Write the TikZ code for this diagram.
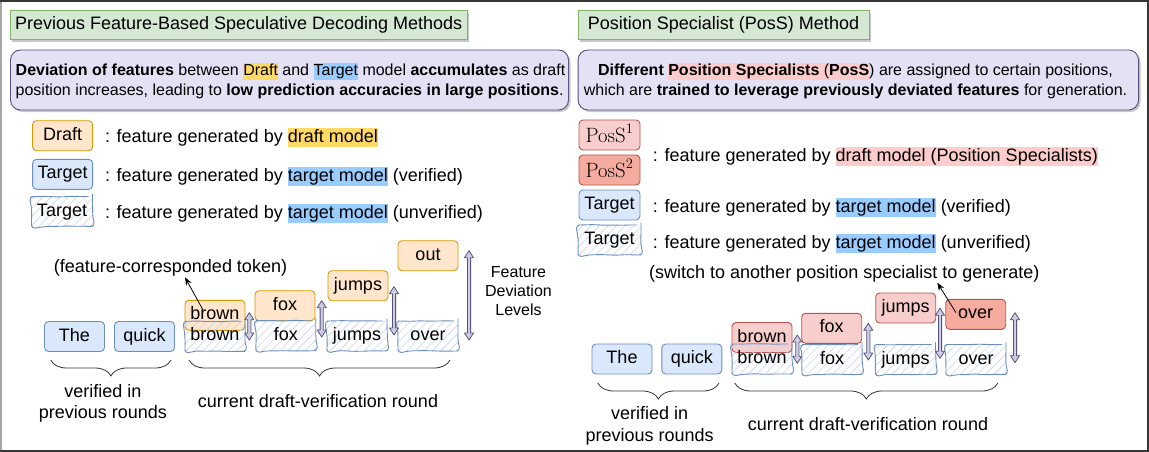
\documentclass[tikz,border=0pt]{standalone}
\usepackage[no-math]{fontspec}
\setmainfont{Liberation Sans}
\usetikzlibrary{shadows,patterns.meta,decorations.pathmorphing,decorations.pathreplacing,arrows.meta,calc}
\definecolor{tgtfill}{HTML}{DAE8FC}
\definecolor{tgtline}{HTML}{6C8EBF}
\definecolor{drfill}{HTML}{FFE6CC}
\definecolor{drline}{HTML}{D79B00}
\definecolor{p1fill}{HTML}{F8CECC}
\definecolor{p2fill}{HTML}{F5AB9D}
\definecolor{pline}{HTML}{B85450}
\definecolor{hatch}{HTML}{C6D7EF}
\definecolor{grfill}{HTML}{D5E8D4}
\definecolor{grline}{HTML}{82B366}
\definecolor{pufill}{HTML}{E4E1F5}
\definecolor{puline}{HTML}{56517E}
\definecolor{arrfill}{HTML}{D0CEE2}
\definecolor{hlY}{HTML}{FFD966}
\definecolor{hlB}{HTML}{99CCFF}
\definecolor{hlP}{HTML}{FFCCCC}
\definecolor{frame}{HTML}{363636}
\newcommand\hl[2]{{\setlength{\fboxsep}{0pt}\colorbox{#1}{\rule[-0.25em]{0pt}{1.05em}#2}}}
\newcommand\flexar[3]{\filldraw[fill=arrfill,draw=puline,line width=0.8pt,line join=round]
 (#1-1.6,#2+7) -- (#1-4.5,#2+7) -- (#1,#2) -- (#1+4.5,#2+7) -- (#1+1.6,#2+7) --
 (#1+1.6,#3-7) -- (#1+4.5,#3-7) -- (#1,#3) -- (#1-4.5,#3-7) -- (#1-1.6,#3-7) -- cycle;}
\tikzset{
 f18/.style={font=\fontsize{18}{21.6}\selectfont},
 f16/.style={font=\fontsize{16}{19.2}\selectfont},
 tok/.style={rounded corners=4pt, minimum width=60pt, minimum height=30pt, inner sep=0pt, line width=0.9pt, f18, text height=13pt, text depth=4pt},
 vtok/.style={tok, fill=tgtfill, draw=tgtline},
 dtok/.style={tok, fill=drfill, draw=drline},
 ponetok/.style={tok, fill=p1fill, draw=pline, font=\fontsize{21}{25}\selectfont, text height=16pt, text depth=2pt},
 ptwotok/.style={tok, fill=p2fill, draw=pline, font=\fontsize{21}{25}\selectfont, text height=16pt, text depth=2pt},
 stok/.style={tok, draw=tgtline, pattern={Lines[angle=45,distance=6pt,line width=0.6pt]}, pattern color=hatch,
   decorate, decoration={random steps,segment length=7pt,amplitude=0.45pt}},
 txt/.style={f18, inner sep=0pt},
 titlebox/.style={f18, fill=grfill, draw=grline, line width=0.9pt, inner sep=0pt, minimum height=29pt,
   drop shadow={shadow xshift=2pt,shadow yshift=-2pt,opacity=0.22,fill=black}},
 purplebox/.style={fill=pufill, draw=puline, line width=0.9pt, rounded corners=10pt, minimum height=60pt, inner sep=0pt,
   drop shadow={shadow xshift=2pt,shadow yshift=-2pt,opacity=0.22,fill=black}},
 bracestyle/.style={draw=frame, line width=0.8pt, decorate, decoration={brace, mirror, amplitude=16pt}},
 ptr/.style={-{Stealth[length=8pt,width=6pt]}, line width=0.8pt, black},
}
\begin{document}
\pgfmathsetseed{7}
\begin{tikzpicture}[x=1pt,y=-1pt]
\useasboundingbox (0,0) rectangle (1149,452);
\fill[white] (0,0) rectangle (1149,452);
\draw[line width=2pt, draw=frame] (1,1) rectangle (1148,451);
\draw[line width=2pt, draw=gray!70] (1,2) -- (1,450);

% ---------------- left panel ----------------
\node[titlebox, minimum width=456.6pt] (ltitle) at (238.7,25.3) {Previous Feature-Based Speculative Decoding Methods};
\node[purplebox, minimum width=558pt] (lbox) at (289.5,80) {};
\node[f16, inner sep=0pt, anchor=base west] (lb1) at (15.5,76) {\textbf{Deviation of features} between \hl{hlY}{Draft} and \hl{hlB}{Target} model \textbf{accumulates} as draft};
\node[f16, inner sep=0pt, anchor=base west] (lb2) at (15.5,95.3) {position increases, leading to \textbf{low prediction accuracies in large positions}.};

\node[dtok] (lgd) at (62.6,135.7) {Draft};
\node[vtok] (lgt) at (62.6,174.3) {Target};
\node[stok, minimum width=61pt] (lgs) at (62,211.5) {Target};
\node[txt, anchor=base west] (lgdt) at (104.8,142.5) {: feature generated by \hl{hlY}{draft model}};
\node[txt, anchor=base west] (lgtt) at (104.8,181.3) {: feature generated by \hl{hlB}{target model} (verified)};
\node[txt, anchor=base west] (lgst) at (104.8,218.2) {: feature generated by \hl{hlB}{target model} (unverified)};

\node[vtok] (lthe) at (74.5,336.5) {The};
\node[vtok] (lquick) at (144.5,336.5) {quick};
\node[dtok] (ldbrown) at (215,315.3) {brown};
\node[dtok] (ldfox) at (285,305.7) {fox};
\node[dtok] (ldjumps) at (358,285.7) {jumps};
\node[dtok] (ldout) at (428,255.7) {out};
\node[stok] (ltbrown) at (215,336.3) {brown};
\node[stok] (ltfox) at (285.8,335.7) {fox};
\node[stok] (ltjumps) at (357,336) {jumps};
\node[stok] (ltover) at (428,336) {over};

\flexar{249.3}{312.7}{340}
\flexar{321.7}{300.7}{337}
\flexar{394}{286.7}{335}
\flexar{469}{250.7}{340}

\node[txt, anchor=base] (lfct) at (170.5,272) {(feature-corresponded token)};
\coordinate (la1) at (203,310);
\coordinate (la2) at (185,277.3);
\draw[ptr] (la1) -- (la2);

\node[f16, inner sep=0pt, anchor=base] (lfd1) at (518.5,277.4) {Feature};
\node[f16, inner sep=0pt, anchor=base] (lfd2) at (518.5,296.6) {Deviation};
\node[f16, inner sep=0pt, anchor=base] (lfd3) at (518.5,315.8) {Levels};

\coordinate (lbr1a) at (50.7,360);
\coordinate (lbr1b) at (171,360);
\coordinate (lbr2a) at (189,360);
\coordinate (lbr2b) at (450,360);
\draw[bracestyle] (lbr1a) -- (lbr1b);
\draw[bracestyle] (lbr2a) -- (lbr2b);
\node[txt, anchor=base] (lver1) at (103,397) {verified in};
\node[txt, anchor=base] (lver2) at (103,418) {previous rounds};
\node[txt, anchor=base] (lcur) at (318,407) {current draft-verification round};

% ---------------- right panel ----------------
\node[titlebox, minimum width=291pt] (rtitle) at (723.5,25.3) {Position Specialist (PosS) Method};
\node[purplebox, minimum width=560.5pt] (rbox) at (858.3,80) {};
\node[f16, inner sep=0pt, anchor=base] (rb1) at (855.5,76) {\textbf{Different} \hl{hlP}{\textbf{Position Specialists} (\textbf{PosS}}) are assigned to certain positions,};
\node[f16, inner sep=0pt, anchor=base] (rb2) at (855.5,95.3) {which are \textbf{trained to leverage previously deviated features} for generation.};

\node[ponetok, minimum width=61pt] (rgp1) at (609.5,135) {$\mathrm{PosS}^1$};
\node[ptwotok, minimum width=61pt] (rgp2) at (609.5,170) {$\mathrm{PosS}^2$};
\node[vtok, minimum width=61pt] (rgt) at (609.5,205) {Target};
\node[stok, minimum width=63pt] (rgs) at (609.5,240) {Target};
\node[txt, anchor=base west] (rgpt) at (652.7,161.5) {: feature generated by \hl{hlP}{draft model (Position Specialists)}};
\node[txt, anchor=base west] (rgtt) at (652.7,212.3) {: feature generated by \hl{hlB}{target model} (verified)};
\node[txt, anchor=base west] (rgst) at (652.7,248.2) {: feature generated by \hl{hlB}{target model} (unverified)};
\node[txt, anchor=base west] (rsw) at (649,278) {(switch to another position specialist to generate)};

\node[vtok] (rthe) at (622,359) {The};
\node[vtok] (rquick) at (691.8,359) {quick};
\node[ponetok, f18, text height=13pt, text depth=4pt] (rpbrown) at (762,337.5) {brown};
\node[ponetok, f18, text height=13pt, text depth=4pt] (rpfox) at (831.7,328.3) {fox};
\node[ponetok, f18, text height=13pt, text depth=4pt] (rpjumps) at (905.7,308) {jumps};
\node[ptwotok, f18, text height=13pt, text depth=4pt] (rpover) at (975.7,314.3) {over};
\node[stok] (rtbrown) at (762,359) {brown};
\node[stok] (rtfox) at (832,359.5) {fox};
\node[stok] (rtjumps) at (905.5,359.5) {jumps};
\node[stok] (rtover) at (976,359.5) {over};

\flexar{797.3}{335}{363.3}
\flexar{868.3}{323.3}{360}
\flexar{940}{308.3}{358.3}
\flexar{1015}{312.7}{362.7}

\coordinate (ra1) at (956,312.7);
\coordinate (ra2) at (937.3,282.7);
\draw[ptr] (ra1) -- (ra2);

\coordinate (rbr1a) at (597.8,383);
\coordinate (rbr1b) at (719,383);
\coordinate (rbr2a) at (734.8,383);
\coordinate (rbr2b) at (997.8,383);
\draw[bracestyle] (rbr1a) -- (rbr1b);
\draw[bracestyle] (rbr2a) -- (rbr2b);
\node[txt, anchor=base] (rver1) at (649.6,419.5) {verified in};
\node[txt, anchor=base] (rver2) at (649.6,441) {previous rounds};
\node[txt, anchor=base] (rcur) at (868,430) {current draft-verification round};
\end{tikzpicture}
\end{document}
